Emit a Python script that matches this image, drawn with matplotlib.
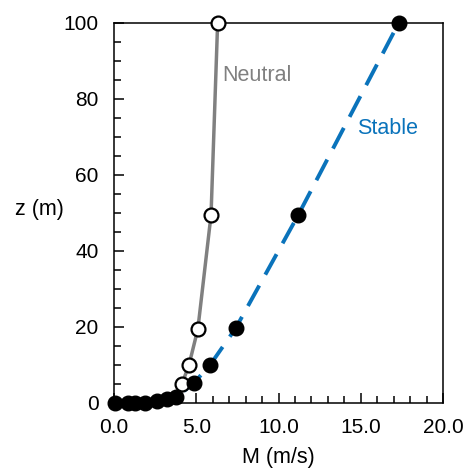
import matplotlib.pyplot as plt
from matplotlib.ticker import MultipleLocator, FormatStrFormatter

plt.rcParams['font.family'] = ['Liberation Sans', 'DejaVu Sans']

# near-surface points shared by both profiles (drawn as filled dots)
low_M = [0.06, 0.85, 1.28, 1.9, 2.6, 3.2, 3.8]
low_z = [0.0, 0.0, 0.0, 0.0, 0.5, 1.0, 1.6]

neutral_M = [4.13, 4.56, 5.1, 5.9, 6.3]
neutral_z = [5, 10, 19.5, 49.5, 100]

stable_M = [4.86, 5.84, 7.4, 11.2, 17.3]
stable_z = [5.3, 10, 19.7, 49.5, 100]

fig = plt.figure(figsize=(4.65, 4.75), dpi=100)
ax = fig.add_axes([0.245, 0.1516, 0.708, 0.80])

gray = '#808080'
blue = '#0a73bb'

ax.plot(low_M + neutral_M, low_z + neutral_z, '-', color=gray, lw=2.5, zorder=2, clip_on=False)
ax.plot(low_M + stable_M, low_z + stable_z, color=blue, lw=2.8, dashes=(6, 3.2),
        zorder=2, clip_on=False)

ax.plot(neutral_M, neutral_z, 'o', ms=10, mfc='white', mec='black', mew=1.6,
        zorder=3, clip_on=False)
ax.plot(stable_M + low_M, stable_z + low_z, 'o', ms=10.5, mfc='black', mec='black',
        zorder=4, clip_on=False)

ax.text(6.6, 86.3, 'Neutral', color=gray, fontsize=15.5, va='center')
ax.text(14.75, 72.2, 'Stable', color=blue, fontsize=15.5, va='center')

ax.set_xlim(0, 20)
ax.set_ylim(0, 100)
ax.xaxis.set_major_locator(MultipleLocator(5))
ax.xaxis.set_minor_locator(MultipleLocator(1))
ax.yaxis.set_major_locator(MultipleLocator(20))
ax.yaxis.set_minor_locator(MultipleLocator(5))
ax.xaxis.set_major_formatter(FormatStrFormatter('%.1f'))
ax.tick_params(which='both', direction='in', labelsize=15, width=1.1)
ax.tick_params(axis='y', pad=11)
ax.tick_params(axis='x', pad=11)
ax.tick_params(which='major', length=7)
ax.tick_params(which='minor', length=5)
for s in ax.spines.values():
    s.set_linewidth(1.1)

ax.set_xlabel('M (m/s)', fontsize=15.5, labelpad=7)
ax.set_ylabel('z (m)', fontsize=15.5, rotation=0, va='center')
ax.yaxis.set_label_coords(-0.225, 0.51)

fig.savefig('out.png', dpi=100)
